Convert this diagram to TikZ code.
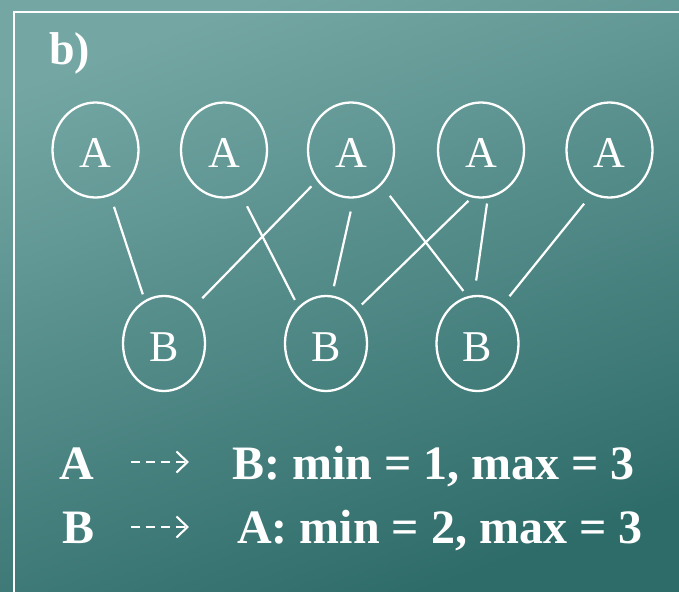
\documentclass[tikz,border=0pt]{standalone}
\usepackage{fontspec}
\setmainfont{Liberation Serif}
\usetikzlibrary{shapes.geometric,arrows.meta}
\definecolor{bgtop}{HTML}{74A7A4}
\definecolor{bgbot}{HTML}{2E6C6A}
\begin{document}
\begin{tikzpicture}[x=1pt,y=-1pt,
  anode/.style={ellipse,draw=white,line width=2.3pt,minimum width=86pt,minimum height=95pt,inner sep=0pt,text=white,font=\fontsize{44}{44}\selectfont,text height=35pt,text depth=0pt},
  bnode/.style={anode,minimum width=82pt},
  link/.style={draw=white,line width=2.2pt},
  lbl/.style={text=white,font=\bfseries\fontsize{48}{48}\selectfont,anchor=base west,inner sep=0pt},
  dasharrow/.style={draw=white,line width=2.1pt,dash pattern=on 9pt off 6pt,-{Straight Barb[length=11pt,width=21pt,line width=2.1pt]}}
]
\useasboundingbox (0,0) rectangle (679,591);
\shade[top color=bgtop, bottom color=bgbot, shading angle=20] (0,0) rectangle (679,591);
\draw[white, line width=2.4pt] (14,595) -- (14,12) -- (683,12);

\node[text=white,font=\bfseries\fontsize{46}{46}\selectfont,anchor=base west,inner sep=0pt] (title) at (49,65) {b)};

\node[anode] (a1) at (95.5,150) {A};
\node[anode] (a2) at (224,150) {A};
\node[anode] (a3) at (351,150) {A};
\node[anode] (a4) at (481,150) {A};
\node[anode] (a5) at (609.5,150) {A};
\node[bnode] (b1) at (164,343.5) {B};
\node[bnode] (b2) at (326,343.5) {B};
\node[bnode] (b3) at (477.5,343.5) {B};

\draw[link, shorten <=11.6pt, shorten >=6.2pt] (a1.-72.6) -- (b1.114.8);
\draw[link, shorten <=12.9pt, shorten >=7.7pt] (a2.-69.4) -- (b2.127.2);
\draw[link, shorten <=7.8pt, shorten >=13.6pt] (a3.-138.3) -- (b1.51.8);
\draw[link, shorten <=13.3pt, shorten >=9.3pt] (a3.-87.2) -- (b2.83.6);
\draw[link, shorten <=13.6pt, shorten >=6.7pt] (a3.-49.6) -- (b3.102.7);
\draw[link, shorten <=4.7pt, shorten >=7.6pt] (a4.-101.4) -- (b2.48);
\draw[link, shorten <=5.5pt, shorten >=14.6pt] (a4.-82) -- (b3.94.8);
\draw[link, shorten <=11.9pt, shorten >=10.7pt] (a5.-112.9) -- (b3.57.9);

\node[lbl] (la) at (59,479) {A};
\node[lbl] (lb) at (232,479) {B: min = 1, max = 3};
\node[lbl] (lc) at (62,543) {B};
\node[lbl] (ld) at (237,543) {A: min = 2, max = 3};

\coordinate (s1) at (131,462);
\coordinate (e1) at (189,462);
\coordinate (s2) at (131,527);
\coordinate (e2) at (189,527);
\draw[dasharrow] (s1) -- (e1);
\draw[dasharrow] (s2) -- (e2);
\end{tikzpicture}
\end{document}
